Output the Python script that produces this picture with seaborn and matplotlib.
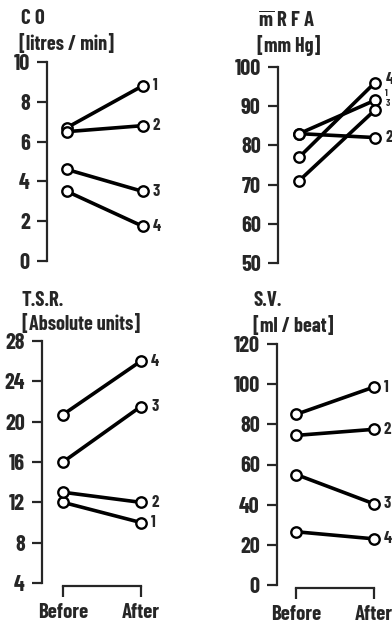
import matplotlib
matplotlib.use("Agg")
import matplotlib.pyplot as plt
import seaborn as sns
import pandas as pd
from matplotlib import font_manager

# ---------------- data ----------------
conditions = ["Before", "After"]
subjects = [1, 2, 3, 4]

co_before = [6.7, 6.5, 4.6, 3.5]
co_after = [8.8, 6.8, 3.5, 1.75]

rfa_before = [83, 83, 71, 77]
rfa_after = [91.5, 82, 89, 96]

tsr_before = [12, 13, 16, 20.7]
tsr_after = [10, 12, 21.5, 26]

sv_before = [85, 74.5, 55, 26.5]
sv_after = [98.5, 77.5, 40.5, 23]

co_ticks = [0, 2, 4, 6, 8, 10]
rfa_ticks = [50, 60, 70, 80, 90, 100]
tsr_ticks = [4, 8, 12, 16, 20, 24, 28]
sv_ticks = [0, 20, 40, 60, 80, 100, 120]

# ---------------- style ----------------
sns.set_style("ticks")
names = {f.name for f in font_manager.fontManager.ttflist}
FONT = "DejaVu Sans"
for cand in ["Barlow Condensed", "Roboto Condensed", "Archivo Narrow", "PT Sans Narrow",
             "Liberation Sans Narrow", "Fira Sans Condensed"]:
    if cand in names:
        FONT = cand
        break
plt.rcParams["font.family"] = [FONT, "DejaVu Sans"]
plt.rcParams["font.weight"] = "bold"
plt.rcParams["mathtext.fontset"] = "custom"
plt.rcParams["mathtext.rm"] = f"{FONT}:bold"
plt.rcParams["mathtext.it"] = f"{FONT}:bold"
plt.rcParams["mathtext.bf"] = f"{FONT}:bold"

FW = "bold"
TICK_FS = 16
XTICK_FS = 15
TITLE_FS = 15
UNIT_FS = 14.5


def long_df(before, after):
    rows = []
    for s, b, a in zip(subjects, before, after):
        rows.append({"subject": s, "x": 0, "value": b})
        rows.append({"subject": s, "x": 1, "value": a})
    return pd.DataFrame(rows)


W, H = 392, 624
fig = plt.figure(figsize=(W / 100, H / 100), dpi=100)


def make_panel(rect_px, xlim, before, after, ticks, xaxis, label_dy=None, label_fs=None):
    left, bottom_px, top_px, width_px = rect_px
    ax = fig.add_axes([left / W, 1 - bottom_px / H, width_px / W, (bottom_px - top_px) / H])
    df = long_df(before, after)
    sns.lineplot(data=df, x="x", y="value", units="subject", estimator=None,
                 color="black", lw=2.6, marker="o", markersize=7.5,
                 markerfacecolor="white", markeredgecolor="black",
                 markeredgewidth=1.7, ax=ax, legend=False)
    for ln in ax.lines:
        ln.set_clip_on(False)
    ax.set_xlim(*xlim)
    ax.set_ylim(ticks[0], ticks[-1])
    ax.set_yticks(ticks)
    ax.set_yticklabels([str(t) for t in ticks], fontsize=TICK_FS, fontweight=FW)
    ax.tick_params(axis="y", length=7.5, width=1.6, pad=5)
    for sp in ["top", "right"]:
        ax.spines[sp].set_visible(False)
    ax.spines["left"].set_linewidth(1.6)
    if xaxis:
        ax.spines["bottom"].set_bounds(0, 1)
        ax.spines["bottom"].set_linewidth(1.6)
        ax.spines["bottom"].set_position(("outward", 2))
        ax.set_xticks([0, 1])
        ax.set_xticklabels(conditions, fontsize=XTICK_FS, fontweight=FW)
        ax.tick_params(axis="x", length=8, width=1.6, pad=4.5)
    else:
        ax.spines["bottom"].set_visible(False)
        ax.set_xticks([])
    ax.set_xlabel("")
    ax.set_ylabel("")
    for s, a in zip(subjects, after):
        dy = 0 if label_dy is None else label_dy.get(s, 0)
        fs = 12 if label_fs is None else label_fs.get(s, 12)
        ax.annotate(str(s), (1, a), xytext=(7.5, dy), textcoords="offset points",
                    ha="left", va="center", fontsize=fs, fontweight="bold",
                    annotation_clip=False)
    ax.patch.set_alpha(0)
    return ax


make_panel((47, 261, 62, 122), (-0.263, 1.35), co_before, co_after, co_ticks, False)
make_panel((278, 263, 67, 112), (-0.28, 1.2), rfa_before, rfa_after, rfa_ticks, False,
           label_dy={4: 2, 1: 5, 3: 4.5}, label_fs={1: 7, 3: 7})
make_panel((42, 583, 341, 126), (-0.27, 1.35), tsr_before, tsr_after, tsr_ticks, True)
make_panel((277, 585, 344, 112), (-0.25, 1.2), sv_before, sv_after, sv_ticks, True)

# titles
def t(x, y, s, size):
    fig.text(x / W, 1 - y / H, s, fontsize=size, fontweight=FW, ha="left", va="center")

t(21, 19, "C O", TITLE_FS)
t(19, 44, "[litres / min]", UNIT_FS)
t(258, 21, r"$\overline{\mathrm{m}}$ R F A", TITLE_FS)
t(257, 46, "[mm Hg]", UNIT_FS)
t(21, 300, "T.S.R.", TITLE_FS)
t(22, 324, "[Absolute units]", UNIT_FS)
t(253, 300, "S.V.", TITLE_FS)
t(253, 326, "[ml / beat]", UNIT_FS)

fig.savefig("out.png", dpi=100, facecolor="white")
